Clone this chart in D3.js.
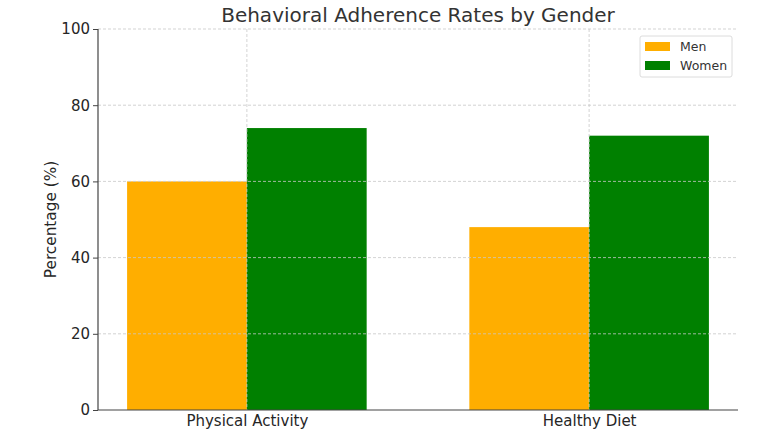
<!DOCTYPE html>
<html>
<head>
<meta charset="utf-8">
<script src="https://cdn.jsdelivr.net/npm/d3@7"></script>
<style>
  body { margin: 0; background: #fff; }
  svg { font-family: "DejaVu Sans", sans-serif; }
</style>
</head>
<body>
<svg id="chart" width="763" height="441"></svg>
<script>
// ─── Data ─────────────────────────────────────────────────────────────────────

const categories = ["Physical Activity", "Healthy Diet"];
const menValues   = [60, 48];
const womenValues = [74, 72];
const yTicks      = [0, 20, 40, 60, 80, 100];
const seriesNames = ["Men", "Women"];
const seriesColors = ["#ffae00", "#008000"];

// ─── Layout ───────────────────────────────────────────────────────────────────

const M = { left: 98, right: 738, top: 29, bottom: 410 };
const BAR_W = 0.35;

const svg = d3.select("#chart");

const x = d3.scaleLinear().domain([-0.435, 1.435]).range([M.left, M.right]);
const y = d3.scaleLinear().domain([0, 100]).range([M.bottom, M.top]);

// bars first, grid over them (matplotlib default order)
const series = [menValues, womenValues];
series.forEach((vals, s) => {
  svg.append("g").selectAll("rect")
    .data(vals)
    .join("rect")
    .attr("x", (d, i) => x(i + (s === 0 ? -BAR_W : 0)))
    .attr("width", x(BAR_W) - x(0))
    .attr("y", d => y(d))
    .attr("height", d => y(0) - y(d))
    .attr("fill", seriesColors[s]);
});

// ─── Grid ─────────────────────────────────────────────────────────────────────

const grid = svg.append("g")
  .attr("stroke", "#c8c8c8")
  .attr("stroke-width", 0.8)
  .attr("stroke-dasharray", "3,2");

grid.selectAll(".hy").data(yTicks.filter(t => t > 0)).join("line")
  .attr("x1", M.left).attr("x2", M.right)
  .attr("y1", d => y(d)).attr("y2", d => y(d));

grid.selectAll(".vx").data(categories).join("line")
  .attr("x1", (d, i) => x(i)).attr("x2", (d, i) => x(i))
  .attr("y1", M.top).attr("y2", M.bottom);

// ─── Axes ─────────────────────────────────────────────────────────────────────

const yAxis = svg.append("g")
  .attr("transform", `translate(${M.left},0)`)
  .call(d3.axisLeft(y).tickValues(yTicks).tickSize(5).tickPadding(3));
yAxis.select(".domain").remove();
yAxis.selectAll(".tick line").attr("stroke", "#444");
yAxis.selectAll("text")
  .attr("fill", "#262626")
  .style("font-size", "15px")
  .style("font-family", "DejaVu Sans");

const xAxis = svg.append("g")
  .attr("transform", `translate(0,${M.bottom})`)
  .call(d3.axisBottom(x).tickValues([0, 1]).tickFormat(i => categories[i]).tickSize(0).tickPadding(5));
xAxis.select(".domain").remove();
xAxis.selectAll("text")
  .attr("fill", "#262626")
  .style("font-size", "15px")
  .style("font-family", "DejaVu Sans");

// spines
svg.append("line")
  .attr("x1", M.left).attr("x2", M.left)
  .attr("y1", M.top).attr("y2", M.bottom)
  .attr("stroke", "#444").attr("stroke-width", 1.2);
svg.append("line")
  .attr("x1", M.left).attr("x2", M.right)
  .attr("y1", M.bottom).attr("y2", M.bottom)
  .attr("stroke", "#444").attr("stroke-width", 1.2);

// ─── Labels ───────────────────────────────────────────────────────────────────

svg.append("text")
  .attr("x", (M.left + M.right) / 2)
  .attr("y", 22)
  .attr("text-anchor", "middle")
  .attr("fill", "#333")
  .style("font-size", "20px")
  .text("Behavioral Adherence Rates by Gender");

svg.append("text")
  .attr("transform", `translate(56,${(M.top + M.bottom) / 2}) rotate(-90)`)
  .attr("text-anchor", "middle")
  .attr("fill", "#262626")
  .style("font-size", "15.3px")
  .text("Percentage (%)");

// ─── Legend ───────────────────────────────────────────────────────────────────

const legend = svg.append("g").attr("transform", "translate(640,36)");
legend.append("rect")
  .attr("width", 92).attr("height", 41).attr("rx", 2)
  .attr("fill", "#fff").attr("stroke", "#dcdcdc");

seriesNames.forEach((name, i) => {
  legend.append("rect")
    .attr("x", 5).attr("y", 6 + i * 19)
    .attr("width", 25).attr("height", 9)
    .attr("fill", seriesColors[i]);
  legend.append("text")
    .attr("x", 40).attr("y", 14.5 + i * 19)
    .attr("fill", "#333")
    .style("font-size", "12.5px")
    .text(name);
});
</script>
</body>
</html>
